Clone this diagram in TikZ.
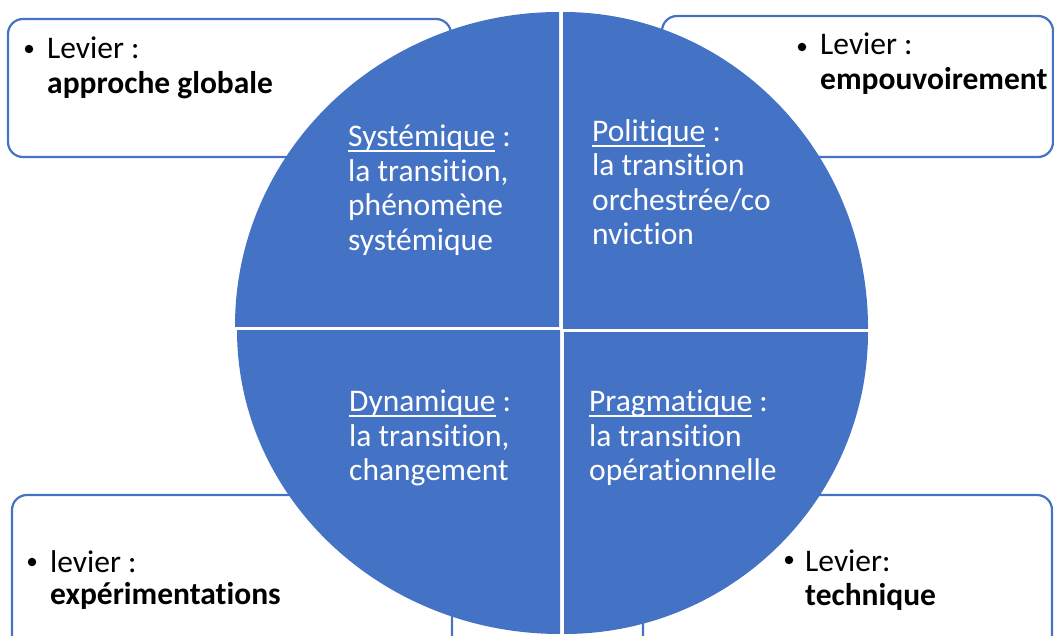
\documentclass[tikz,border=0pt]{standalone}
\usepackage{fontspec}
\setmainfont{Carlito}[Ligatures={NoCommon}]
\definecolor{qblue}{HTML}{4472C4}
\newcommand\myul[1]{\setbox0\hbox{#1}\rlap{\rule[-5pt]{\wd0}{1.8pt}}\box0\relax}
\tikzset{
  blk/.style={inner sep=0pt, anchor=base west, font=\fontsize{31.5}{35}\selectfont},
  wtxt/.style={blk, text=white},
  levbox/.style={draw=qblue, line width=2.2pt, rounded corners=15pt},
  bul/.style={circle, fill=black, inner sep=0pt, minimum size=8.5pt},
  quad/.style={fill=qblue}
}
\begin{document}
\begin{tikzpicture}[x=1pt,y=-1pt]
\useasboundingbox (0,0) rectangle (1054,636);
% lever boxes
\draw[levbox] (8,19) rectangle (451,157);
\draw[levbox] (662,16) rectangle (1053,157);
\draw[levbox] (12,495) rectangle (452,660);
\draw[levbox] (643,495) rectangle (1052,660);
% quadrants
\begin{scope}\clip (235,12) rectangle (559,326);
\fill[quad] (559,326) ellipse [x radius=324, y radius=314];\end{scope}
\begin{scope}\clip (563,12) rectangle (868,328);
\fill[quad] (563,328) ellipse [x radius=305, y radius=316];\end{scope}
\begin{scope}\clip (237,330) rectangle (560,634);
\fill[quad] (560,330) ellipse [x radius=323, y radius=304];\end{scope}
\begin{scope}\clip (564,332) rectangle (868,634);
\fill[quad] (564,332) ellipse [x radius=304, y radius=302];\end{scope}
% box texts
\node[bul] (b1) at (29,49) {};
\node[blk] (t1a) at (47,59) {Levier :};
\node[blk] (t1b) at (47,94) {\bfseries approche globale};
\node[bul] (b2) at (802,47) {};
\node[blk] (t2a) at (820,55) {Levier :};
\node[blk] (t2b) at (820,90) {\bfseries empouvoirement};
\node[bul] (b3) at (32,562) {};
\node[blk] (t3a) at (50,572) {levier :};
\node[blk] (t3b) at (50,604) {\bfseries expérimentations};
\node[bul] (b4) at (789,560) {};
\node[blk] (t4a) at (805,571) {Levier:};
\node[blk] (t4b) at (805,605) {\bfseries technique};
% circle texts
\node[wtxt] (s1) at (348,147) {\myul{Systémique} :};
\node[wtxt] (s2) at (348,181.5) {la transition,};
\node[wtxt] (s3) at (348,216) {phénomène};
\node[wtxt] (s4) at (348,250.5) {systémique};
\node[wtxt] (p1) at (592,141.7) {\myul{Politique} :};
\node[wtxt] (p2) at (592,176) {la transition};
\node[wtxt] (p3) at (592,210.5) {orchestrée/co};
\node[wtxt] (p4) at (592,245) {nviction};
\node[wtxt] (d1) at (349,411.7) {\myul{Dynamique} :};
\node[wtxt] (d2) at (349,446) {la transition,};
\node[wtxt] (d3) at (349,480) {changement};
\node[wtxt] (g1) at (589,411.7) {\myul{Pragmatique} :};
\node[wtxt] (g2) at (589,446) {la transition};
\node[wtxt] (g3) at (589,480) {opérationnelle};
\end{tikzpicture}
\end{document}
